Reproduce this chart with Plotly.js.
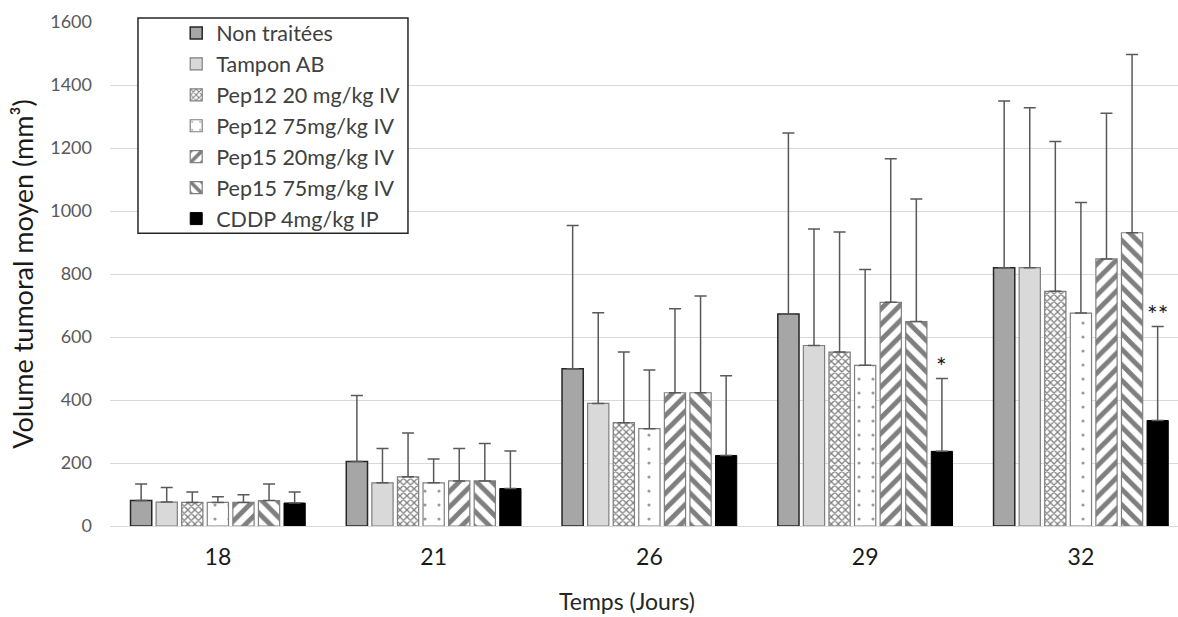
<!DOCTYPE html>
<html>
<head>
<meta charset="utf-8">
<script src="https://cdn.plot.ly/plotly-3.0.1.min.js"></script>
<style>html,body{margin:0;padding:0;background:#fff}#chart{width:1178px;height:617px}</style>
</head>
<body>
<div id="chart"></div>
<script>
// ---- data ----
const days = ['18', '21', '26', '29', '32'];
const seriesNames = ['Non traitées', 'Tampon AB', 'Pep12 20 mg/kg IV', 'Pep12 75mg/kg IV', 'Pep15 20mg/kg IV', 'Pep15 75mg/kg IV', 'CDDP 4mg/kg IP'];
const nonTraitees = [81, 205, 499, 673, 820];
const tamponAB   = [76, 137, 389, 573, 820];
const pep12_20   = [75, 156, 328, 552, 745];
const pep12_75   = [75, 137, 309, 510, 676];
const pep15_20   = [75, 143, 423, 710, 848];
const pep15_75   = [81, 143, 423, 649, 931];
const cddp       = [73, 119, 224, 237, 335];
const errNonTraitees = [52, 209, 455, 575, 529];
const errTamponAB   = [46, 109, 288, 370, 508];
const errPep12_20   = [33, 139, 224, 381, 476];
const errPep12_75   = [18, 76, 186, 304, 351];
const errPep15_20   = [24, 103, 267, 456, 462];
const errPep15_75   = [52, 119, 307, 389, 566];
const errCddp       = [35, 119, 253, 231, 298];
const cddpSignif    = ['', '', '', '*', '**'];
const xTitle = 'Temps (Jours)';
const yTitle = 'Volume tumoral moyen (mm³)';

// ---- styles ----
const values = [nonTraitees, tamponAB, pep12_20, pep12_75, pep15_20, pep15_75, cddp];
const errors = [errNonTraitees, errTamponAB, errPep12_20, errPep12_75, errPep15_20, errPep15_75, errCddp];
const styles = [
  {color: '#a6a6a6', line: {color: '#262626', width: 1.5}},
  {color: '#d9d9d9', line: {color: '#7f7f7f', width: 1.2}},
  {color: '#ffffff', line: {color: '#7f7f7f', width: 1.2}, pattern: {shape: 'x', fgcolor: '#7f7f7f', bgcolor: '#ffffff', size: 5, solidity: 0.45}},
  {color: '#ffffff', line: {color: '#7f7f7f', width: 1.2}, pattern: {shape: '.', fgcolor: '#9a9a9a', bgcolor: '#ffffff', size: 14, solidity: 0.04}},
  {color: '#ffffff', line: {color: '#7f7f7f', width: 1.2}, pattern: {shape: '/', fgcolor: '#7f7f7f', bgcolor: '#ffffff', size: 11, solidity: 0.45}},
  {color: '#ffffff', line: {color: '#7f7f7f', width: 1.2}, pattern: {shape: '\\', fgcolor: '#7f7f7f', bgcolor: '#ffffff', size: 11, solidity: 0.45}},
  {color: '#000000', line: {color: '#000000', width: 1}}
];

const FONT = 'Lato, "Open Sans", sans-serif';
const bargap = 0.17;

const traces = seriesNames.map((name, i) => ({
  type: 'bar',
  name: name,
  x: days,
  y: values[i],
  marker: styles[i],
  error_y: {type: 'data', symmetric: false, array: errors[i], arrayminus: errors[i].map(() => 0),
            color: '#595959', thickness: 1.5, width: 6},
  hoverinfo: 'x+y+name'
}));

// asterisks above the CDDP error bars (last bar of each group)
const nSeries = seriesNames.length;
const slot = (1 - bargap) / nSeries;
const lastOffset = -(1 - bargap) / 2 + slot * (nSeries - 0.5);
const annotations = [];
cddpSignif.forEach((s, k) => {
  if (!s) return;
  annotations.push({
    x: k + lastOffset, y: cddp[k] + errCddp[k], xref: 'x', yref: 'y',
    text: s, showarrow: false, yanchor: 'bottom', yshift: -4,
    font: {family: FONT, size: 25, color: '#1a1a2e'}
  });
});
// x-axis title (placed as in the reference, slightly left of the plot centre)
annotations.push({
  text: xTitle, xref: 'paper', yref: 'paper', x: 0.484, y: -0.148,
  xanchor: 'center', yanchor: 'middle', showarrow: false,
  font: {family: FONT, size: 23, color: '#262626'}
});

const layout = {
  width: 1178, height: 617,
  margin: {l: 110, r: 0, t: 22, b: 91},
  paper_bgcolor: '#ffffff', plot_bgcolor: '#ffffff',
  barmode: 'group', bargap: bargap, bargroupgap: 0.17,
  font: {family: FONT, color: '#404040'},
  xaxis: {
    type: 'category', range: [-0.5, 4.45], showgrid: false, zeroline: false,
    showline: true, linecolor: '#d9d9d9', linewidth: 1,
    ticks: '', ticklabelstandoff: 10,
    tickfont: {family: FONT, size: 23, color: '#1a1a1a'}
  },
  yaxis: {
    range: [0, 1600], dtick: 200, showgrid: true, gridcolor: '#d9d9d9', gridwidth: 1,
    zeroline: false, showline: false, ticks: '', ticklabelstandoff: 17,
    tickfont: {family: FONT, size: 18, color: '#595959'},
    title: {text: yTitle, font: {family: FONT, size: 27, color: '#1a1a1a'}, standoff: 8}
  },
  showlegend: true,
  legend: {
    x: 0.062, y: 1.019, xanchor: 'left', yanchor: 'top',
    bgcolor: 'rgba(0,0,0,0)', borderwidth: 0,
    font: {family: FONT, size: 21.5, color: '#404040'},
    tracegroupgap: 0, itemwidth: 30
  },
  shapes: [{
    type: 'rect', xref: 'paper', yref: 'paper', layer: 'above',
    x0: 0.0262, x1: 0.279, y0: 0.581, y1: 1.008,
    fillcolor: '#ffffff', line: {color: '#262626', width: 1.5}
  }],
  annotations: annotations
};

Plotly.newPlot('chart', traces, layout, {displayModeBar: false, staticPlot: true});
</script>
</body>
</html>
